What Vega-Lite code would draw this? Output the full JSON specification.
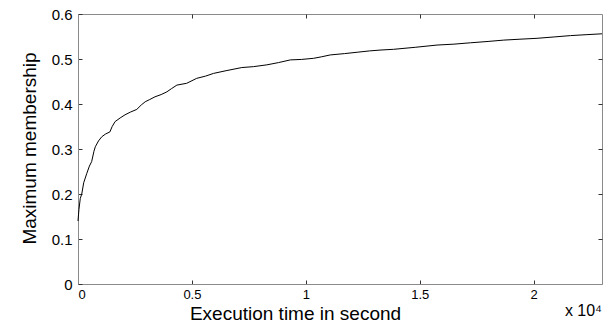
{
  "$schema": "https://vega.github.io/schema/vega-lite/v6.json",
  "autosize": {"type": "none"},
  "padding": {"left": 78, "top": 14, "right": 1, "bottom": 39},
  "width": 524,
  "height": 270,
  "background": "white",
  "config": {
    "view": {"stroke": "#8a8a8a", "strokeWidth": 1},
    "axis": {
      "grid": false,
      "domainColor": "#8a8a8a",
      "tickColor": "#333333",
      "labelColor": "black",
      "titleColor": "black",
      "labelFont": "Liberation Sans",
      "titleFont": "Liberation Sans",
      "titleFontWeight": "normal"
    }
  },
  "data": {
    "values": [
      {"t": 0, "m": 0.14},
      {"t": 40, "m": 0.165},
      {"t": 100, "m": 0.19},
      {"t": 165, "m": 0.2},
      {"t": 250, "m": 0.225},
      {"t": 380, "m": 0.245},
      {"t": 500, "m": 0.262},
      {"t": 600, "m": 0.272},
      {"t": 700, "m": 0.295},
      {"t": 760, "m": 0.305},
      {"t": 900, "m": 0.318},
      {"t": 1040, "m": 0.327},
      {"t": 1200, "m": 0.333},
      {"t": 1400, "m": 0.338},
      {"t": 1500, "m": 0.35},
      {"t": 1630, "m": 0.361},
      {"t": 1850, "m": 0.369},
      {"t": 2065, "m": 0.376},
      {"t": 2300, "m": 0.382},
      {"t": 2580, "m": 0.388},
      {"t": 2780, "m": 0.398},
      {"t": 2950, "m": 0.405},
      {"t": 3150, "m": 0.41},
      {"t": 3380, "m": 0.416},
      {"t": 3650, "m": 0.421},
      {"t": 3900, "m": 0.427},
      {"t": 4100, "m": 0.434},
      {"t": 4340, "m": 0.442},
      {"t": 4770, "m": 0.446},
      {"t": 5210, "m": 0.457},
      {"t": 5600, "m": 0.462},
      {"t": 5950, "m": 0.468},
      {"t": 6500, "m": 0.474},
      {"t": 7190, "m": 0.481},
      {"t": 7700, "m": 0.483},
      {"t": 8290, "m": 0.487},
      {"t": 8800, "m": 0.492},
      {"t": 9320, "m": 0.498},
      {"t": 9800, "m": 0.499},
      {"t": 10340, "m": 0.5015},
      {"t": 10700, "m": 0.505},
      {"t": 11070, "m": 0.509},
      {"t": 11700, "m": 0.512},
      {"t": 12250, "m": 0.515},
      {"t": 12800, "m": 0.518},
      {"t": 13300, "m": 0.52},
      {"t": 13850, "m": 0.5215},
      {"t": 14800, "m": 0.526},
      {"t": 15760, "m": 0.531},
      {"t": 16500, "m": 0.533},
      {"t": 17220, "m": 0.536},
      {"t": 18000, "m": 0.539},
      {"t": 18690, "m": 0.542},
      {"t": 19400, "m": 0.544},
      {"t": 20150, "m": 0.546},
      {"t": 20900, "m": 0.549},
      {"t": 21620, "m": 0.552},
      {"t": 22300, "m": 0.554},
      {"t": 23000, "m": 0.556}
    ]
  },
  "layer": [
    {
      "mark": {"type": "line", "color": "black", "strokeWidth": 1},
      "encoding": {
        "x": {
          "field": "t",
          "type": "quantitative",
          "scale": {"domain": [0, 23000], "nice": false, "zero": false},
          "axis": {
            "orient": "bottom",
            "values": [0, 5000, 10000, 15000, 20000],
            "labelExpr": "format(datum.value / 10000, '~g')",
            "labelFontSize": 13,
            "labelPadding": 8,
            "tickSize": -4,
            "title": "Execution time in second",
            "titleFontSize": 19,
            "titleX": 217,
            "titleY": 35,
            "titleAlign": "center",
            "titleBaseline": "alphabetic"
          }
        },
        "y": {
          "field": "m",
          "type": "quantitative",
          "scale": {"domain": [0, 0.6], "nice": false},
          "axis": {
            "orient": "left",
            "values": [0, 0.1, 0.2, 0.3, 0.4, 0.5, 0.6],
            "format": ".1~f",
            "labelFontSize": 15,
            "labelPadding": 10,
            "tickSize": -4,
            "title": "Maximum membership",
            "titleFontSize": 19,
            "titleAngle": -90,
            "titleX": -43,
            "titleY": 134,
            "titleAlign": "center",
            "titleBaseline": "alphabetic"
          }
        }
      }
    },
    {
      "mark": {"type": "line", "strokeOpacity": 0},
      "encoding": {
        "x": {
          "field": "t",
          "type": "quantitative",
          "axis": {"orient": "top", "values": [5000, 10000, 15000, 20000], "labels": false, "title": null, "tickSize": -4, "domain": false}
        },
        "y": {
          "field": "m",
          "type": "quantitative",
          "axis": {"orient": "right", "values": [0.1, 0.2, 0.3, 0.4, 0.5], "labels": false, "title": null, "tickSize": -4, "domain": false}
        }
      }
    },
    {
      "data": {"values": [{"t": 23000, "m": 0, "note": "x 10⁴"}]},
      "mark": {"type": "text", "align": "right", "baseline": "alphabetic", "dy": 32, "fontSize": 16, "font": "Liberation Sans", "color": "black"},
      "encoding": {
        "x": {"field": "t", "type": "quantitative", "axis": null},
        "y": {"field": "m", "type": "quantitative", "axis": null},
        "text": {"field": "note"}
      }
    }
  ],
  "resolve": {"axis": {"x": "independent", "y": "independent"}}
}
